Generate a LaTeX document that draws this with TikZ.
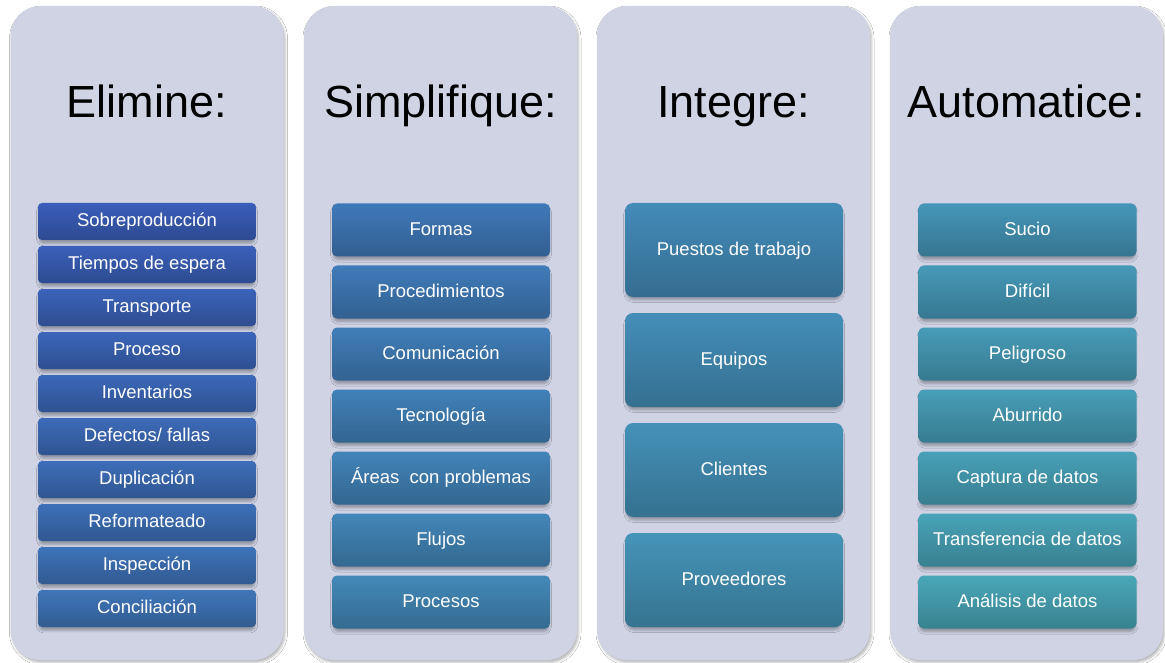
\documentclass[tikz,border=0pt]{standalone}
\usepackage{fontspec}
\setmainfont{Liberation Sans}
\usetikzlibrary{shadows.blur}

\definecolor{panelc}{RGB}{207,211,228}
\definecolor{startc}{RGB}{58,94,186}
\definecolor{endc}{RGB}{73,167,184}

\begin{document}
\begin{tikzpicture}[x=1pt,y=-1pt,
  panel/.style={fill=panelc, rounded corners=30pt, inner sep=0pt,
    minimum width=273pt, minimum height=654pt,
    blur shadow={shadow xshift=1.5pt, shadow yshift=-2.5pt,
      shadow blur radius=2.5pt, shadow opacity=28}},
  head/.style={anchor=base, font=\fontsize{45}{54}\selectfont, text=black},
  item/.style={text=white, font=\fontsize{18.5}{22}\selectfont,
    minimum width=218pt, text height=13.3pt, text depth=3pt, inner sep=0pt,
    blur shadow={shadow xshift=0pt, shadow yshift=-3.5pt, shadow scale=0.99,
      shadow blur radius=2.5pt, shadow opacity=30}},
  shade/.style={top color=cur, bottom color=cur!78!black},
]
\useasboundingbox (0,0) rectangle (1165,663);
\fill[white] (0,0) rectangle (1165,663);

% background panels
\node[panel] (p1) at (147,333) {};
\node[panel] (p2) at (440.5,333) {};
\node[panel] (p3) at (733.5,333) {};
\node[panel] (p4) at (1026.5,333) {};

% headings
\node[head] (h1) at (147,118) {Elimine:};
\node[head] (h2) at (440.5,118) {Simplifique:};
\node[head] (h3) at (733.5,118) {Integre:};
\node[head] (h4) at (1026.5,118) {Automatice:};

% column 1
\foreach \t [count=\i from 0] in {Sobreproducción, Tiempos de espera, Transporte,
    Proceso, Inventarios, Defectos/ fallas, Duplicación, Reformateado,
    Inspección, Conciliación} {
  \pgfmathtruncatemacro\p{100*\i/27}
  \colorlet{cur}{endc!\p!startc}
  \node[item, shade, rounded corners=4pt, minimum height=37pt]
    (a\i) at (147,221.5+43*\i) {\t};
}

% column 2
\foreach \t [count=\i from 0] in {Formas, Procedimientos, Comunicación,
    Tecnología, Áreas~ con problemas, Flujos, Procesos} {
  \pgfmathtruncatemacro\p{100*(\i+10)/27}
  \colorlet{cur}{endc!\p!startc}
  \node[item, shade, rounded corners=5pt, minimum height=53pt]
    (b\i) at (441,230+62*\i) {\t};
}

% column 3
\foreach \t [count=\i from 0] in {Puestos de trabajo, Equipos, Clientes, Proveedores} {
  \pgfmathtruncatemacro\p{100*(\i+17)/27}
  \colorlet{cur}{endc!\p!startc}
  \node[item, shade, rounded corners=8pt, minimum height=94pt]
    (c\i) at (734,250+110*\i) {\t};
}

% column 4
\foreach \t [count=\i from 0] in {Sucio, Difícil, Peligroso, Aburrido,
    Captura de datos, Transferencia de datos, Análisis de datos} {
  \pgfmathtruncatemacro\p{100*(\i+21)/27}
  \colorlet{cur}{endc!\p!startc}
  \node[item, shade, rounded corners=5pt, minimum height=53pt]
    (d\i) at (1027.5,230+62*\i) {\t};
}
\end{tikzpicture}
\end{document}
